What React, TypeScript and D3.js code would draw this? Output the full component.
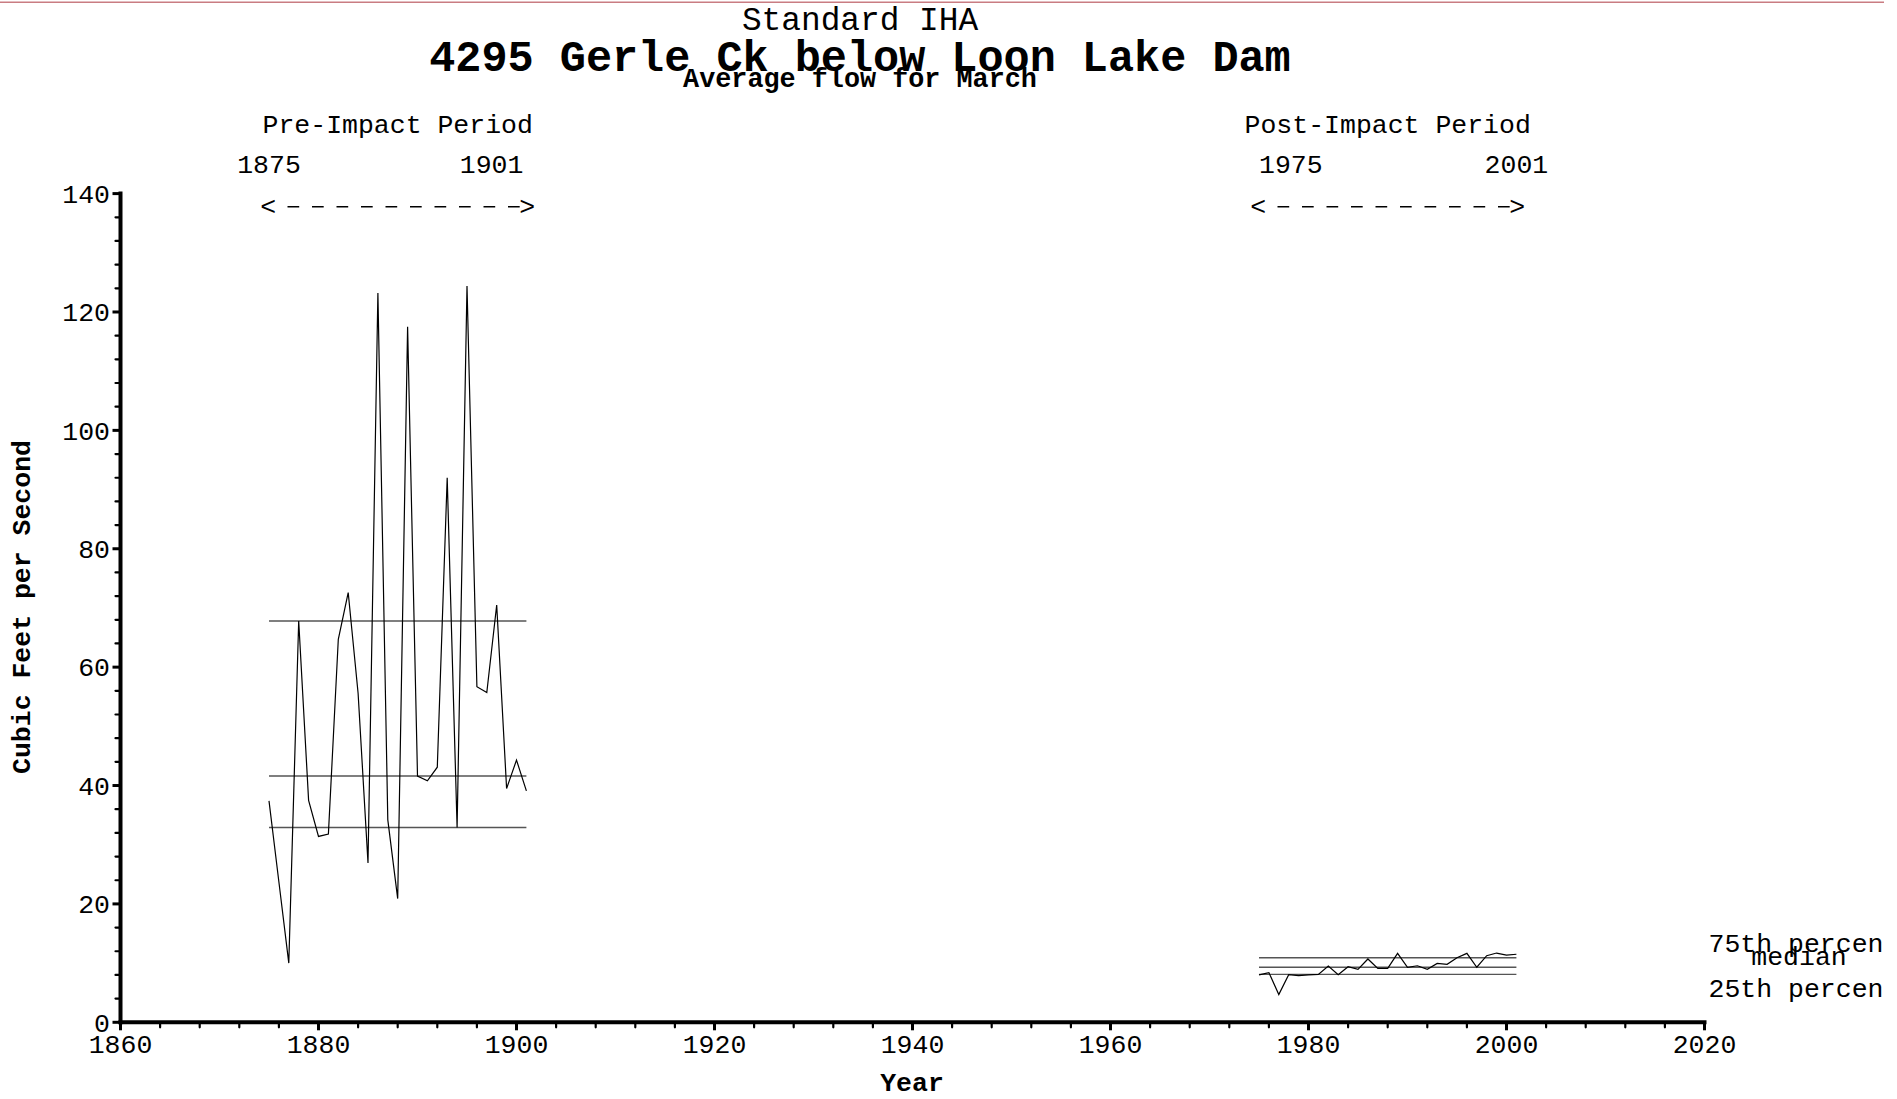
import React from "react";
import * as d3 from "d3";

// Average March flow, cubic feet per second
const preYears = [1875, 1876, 1877, 1878, 1879, 1880, 1881, 1882, 1883, 1884, 1885, 1886, 1887, 1888, 1889, 1890, 1891, 1892, 1893, 1894, 1895, 1896, 1897, 1898, 1899, 1900, 1901];
const preFlow = [37.4, 23.7, 10.0, 67.8, 37.5, 31.4, 31.8, 64.7, 72.6, 55.6, 26.9, 123.2, 34.2, 20.9, 117.5, 41.6, 40.8, 43.1, 92.0, 32.9, 124.4, 56.7, 55.7, 70.5, 39.5, 44.3, 39.1];

const postYears = [1975, 1976, 1977, 1978, 1979, 1980, 1981, 1982, 1983, 1984, 1985, 1986, 1987, 1988, 1989, 1990, 1991, 1992, 1993, 1994, 1995, 1996, 1997, 1998, 1999, 2000, 2001];
const postFlow = [8.0, 8.4, 4.7, 8.05, 7.9, 8.0, 8.1, 9.5, 8.05, 9.4, 8.95, 10.7, 9.1, 9.1, 11.65, 9.3, 9.55, 8.95, 9.95, 9.8, 10.9, 11.65, 9.3, 11.25, 11.7, 11.35, 11.5];

// 25th percentile, median, 75th percentile
const prePercentiles = [32.9, 41.6, 67.8];
const postPercentiles = [8.1, 9.3, 10.9];
const percentileLabels = ["25th percen", "median", "75th percen"];

const periodNames = ["Pre-Impact Period", "Post-Impact Period"];

const xTicks = [1860, 1880, 1900, 1920, 1940, 1960, 1980, 2000, 2020];
const yTicks = [0, 20, 40, 60, 80, 100, 120, 140];

const W = 1897;
const H = 1099;
const MONO = "'Liberation Mono', 'Courier New', monospace";

export default function App() {
  const x = d3.scaleLinear().domain([1860, 2020]).range([120.5, 1704.5]);
  const y = d3.scaleLinear().domain([0, 140]).range([1022.3, 193.6]);

  const xMinor = d3.range(1860, 2021, 4).filter((v) => v % 20 !== 0);
  const yMinor = d3.range(0, 141, 4).filter((v) => v % 20 !== 0);

  const line = d3
    .line<[number, number]>()
    .x((d) => x(d[0]))
    .y((d) => y(d[1]));

  const prePts = preYears.map((yr, i) => [yr, preFlow[i]] as [number, number]);
  const postPts = postYears.map((yr, i) => [yr, postFlow[i]] as [number, number]);

  const periods = [
    { name: periodNames[0], years: preYears, pct: prePercentiles, startAnchor: "middle", startDx: 0, endAnchor: "end", endDx: -3 },
    { name: periodNames[1], years: postYears, pct: postPercentiles, startAnchor: "start", startDx: 0, endAnchor: "middle", endDx: 0 },
  ];

  const fontSize = 26.5;
  const labelX = 1796;
  const [p25, pMed, p75] = postPercentiles;

  return (
    <svg
      width={W}
      height={H}
      viewBox={`0 0 ${W} ${H}`}
      style={{ position: "absolute", left: 0, top: 0, background: "#fff" }}
      fontFamily={MONO}
    >
      <rect x={0} y={0} width={W} height={H} fill="#fff" />
      <line x1={0} x2={1884} y1={2.2} y2={2.2} stroke="#c97c82" strokeWidth={1.6} />

      {/* titles */}
      <text x={860} y={30} textAnchor="middle" fontSize={32.8}>Standard IHA</text>
      <text x={860} y={71} textAnchor="middle" fontSize={43.5} fontWeight="bold">4295 Gerle Ck below Loon Lake Dam</text>
      <text x={860} y={87} textAnchor="middle" fontSize={26.8} fontWeight="bold">Average flow for March</text>

      {/* period headers */}
      {periods.map((p) => {
        const y0 = p.years[0];
        const y1 = p.years[p.years.length - 1];
        const cx = (x(y0) + x(y1)) / 2;
        const a0 = cx - 135.5;
        const a1 = cx + 135.5;
        return (
          <g key={p.name}>
            <text x={cx} y={133} textAnchor="middle" fontSize={fontSize}>{p.name}</text>
            <text x={x(y0) + p.startDx} y={173.3} textAnchor={p.startAnchor as any} fontSize={fontSize}>{y0}</text>
            <text x={x(y1) + p.endDx} y={173.3} textAnchor={p.endAnchor as any} fontSize={fontSize}>{y1}</text>
            <text x={a0 - 2} y={215} textAnchor="start" fontSize={fontSize}>{"<"}</text>
            <text x={a1 + 2} y={215} textAnchor="end" fontSize={fontSize}>{">"}</text>
            <line x1={a0 + 25.3} x2={a1 - 12.3} y1={206.7} y2={206.7} stroke="#000" strokeWidth={1.5} strokeDasharray="11.7 12.8" />
          </g>
        );
      })}

      {/* percentile lines */}
      {periods.map((p) =>
        p.pct.map((v, i) => (
          <line
            key={p.name + i}
            x1={x(p.years[0])}
            x2={x(p.years[p.years.length - 1])}
            y1={y(v)}
            y2={y(v)}
            stroke="#555"
            strokeWidth={1.4}
          />
        ))
      )}

      {/* flow series */}
      <path d={line(prePts) || ""} fill="none" stroke="#000" strokeWidth={1.2} strokeLinejoin="miter" />
      <path d={line(postPts) || ""} fill="none" stroke="#000" strokeWidth={1.2} />

      {/* percentile legend */}
      <text x={labelX} y={y(p75) - 6} textAnchor="middle" fontSize={fontSize}>{percentileLabels[2]}</text>
      <text x={labelX + 3} y={y(pMed) - 2.3} textAnchor="middle" fontSize={fontSize}>{percentileLabels[1]}</text>
      <text x={labelX} y={y(p25) + 22.4} textAnchor="middle" fontSize={fontSize}>{percentileLabels[0]}</text>

      {/* y axis */}
      <line x1={x(1860)} x2={x(1860)} y1={y(140) - 2} y2={y(0) + 2} stroke="#000" strokeWidth={4} />
      {yTicks.map((t) => (
        <g key={"yt" + t}>
          <line x1={x(1860) - 8} x2={x(1860)} y1={y(t)} y2={y(t)} stroke="#000" strokeWidth={3} />
          <text x={110} y={y(t)} dy="0.35em" textAnchor="end" fontSize={fontSize}>{t}</text>
        </g>
      ))}
      {yMinor.map((t) => (
        <line key={"ym" + t} x1={x(1860) - 5} x2={x(1860)} y1={y(t)} y2={y(t)} stroke="#000" strokeWidth={2.2} strokeLinecap="round" />
      ))}

      {/* x axis */}
      <line x1={x(1860) - 2} x2={x(2020) + 2} y1={y(0)} y2={y(0)} stroke="#000" strokeWidth={4} />
      {xTicks.map((t) => (
        <g key={"xt" + t}>
          <line x1={x(t)} x2={x(t)} y1={y(0)} y2={y(0) + 8} stroke="#000" strokeWidth={3} />
          <text x={x(t)} y={1052.5} textAnchor="middle" fontSize={fontSize}>{t}</text>
        </g>
      ))}
      {xMinor.map((t) => (
        <line key={"xm" + t} x1={x(t)} x2={x(t)} y1={y(0)} y2={y(0) + 5} stroke="#000" strokeWidth={2.2} strokeLinecap="round" />
      ))}

      {/* axis titles */}
      <text x={912} y={1091} textAnchor="middle" fontSize={fontSize} fontWeight="bold">Year</text>
      <text transform="translate(30,607) rotate(-90)" textAnchor="middle" fontSize={fontSize} fontWeight="bold">Cubic Feet per Second</text>
    </svg>
  );
}
